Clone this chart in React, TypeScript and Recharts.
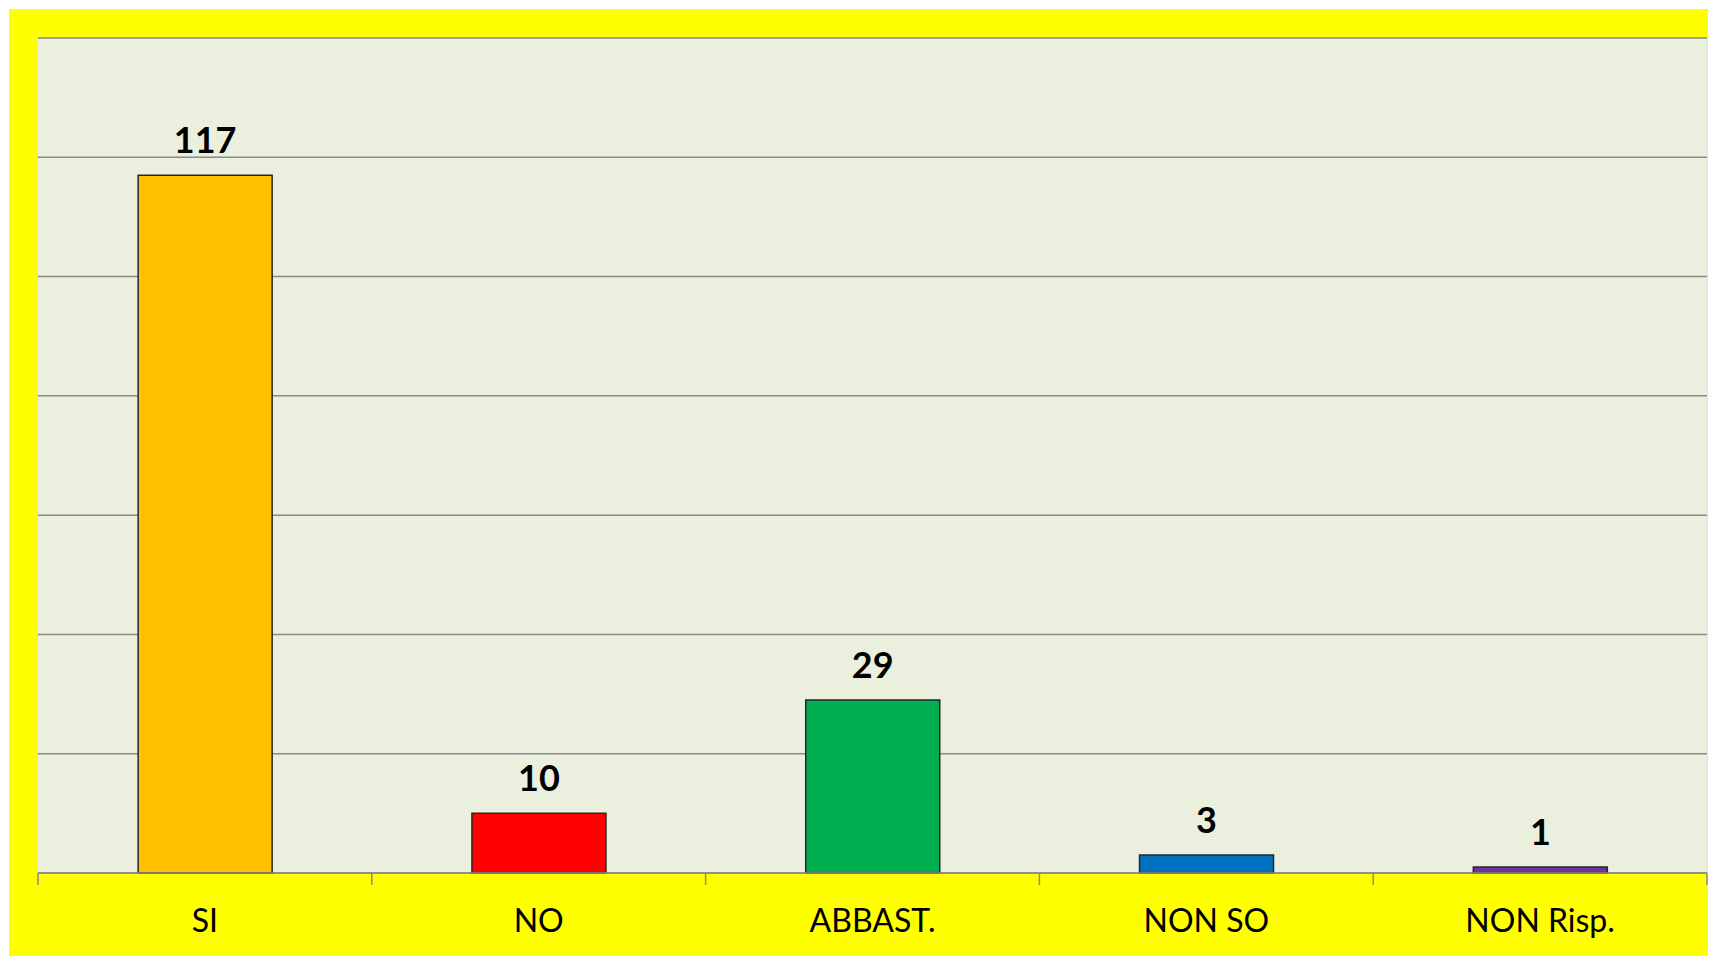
import { BarChart, Bar, XAxis, YAxis, CartesianGrid, Cell, LabelList } from 'recharts';

const CATEGORIES = ['SI', 'NO', 'ABBAST.', 'NON SO', 'NON Risp.'];
const VALUES = [117, 10, 29, 3, 1];
const COLORS = ['#FFC000', '#FF0000', '#00B050', '#0070C0', '#7030A0'];
const Y_TICKS = [0, 20, 40, 60, 80, 100, 120, 140];

const data = CATEGORIES.map((name, i) => ({ name, value: VALUES[i] }));

const FONT = 'Lato, "Open Sans", sans-serif';
const GRID = '#8a8a8a';

// category label plus the small tick marks at the category boundaries
function CategoryTick(props: any) {
  const { x, y, payload, index, visibleTicksCount, width } = props;
  const half = payload.offset > 0 ? payload.offset : width / visibleTicksCount / 2;
  const last = index === visibleTicksCount - 1;
  return (
    <g>
      <line x1={x - half} x2={x - half} y1={y - 12} y2={y} stroke={GRID} strokeWidth={1.5} />
      {last && <line x1={x + half} x2={x + half} y1={y - 12} y2={y} stroke={GRID} strokeWidth={1.5} />}
      <text x={x} y={y + 47} textAnchor="middle" fontSize={32} fontFamily={FONT} fill="#000">
        {payload.value}
      </text>
    </g>
  );
}

// y ticks are kept (they drive the grid) but draw nothing
function NoTick() {
  return <g />;
}

export default function App() {
  return (
    <div style={{ marginTop: 1, marginLeft: 1, width: 1699, height: 947, background: '#FFFF00' }}>
      <BarChart
        width={1699}
        height={947}
        data={data}
        barCategoryGap="30%"
        margin={{ top: 29, right: 1, bottom: 0, left: 29 }}
      >
        <CartesianGrid vertical={false} stroke={GRID} strokeWidth={1.5} fill="#EBF0DE" fillOpacity={1} />
        <XAxis
          dataKey="name"
          interval={0}
          height={83}
          tickSize={12}
          tickMargin={0}
          tickLine={false}
          axisLine={{ stroke: GRID, strokeWidth: 1.5 }}
          tick={<CategoryTick />}
        />
        <YAxis
          domain={[0, 140]}
          ticks={Y_TICKS}
          interval={0}
          width={0}
          tick={<NoTick />}
          axisLine={false}
          tickLine={false}
        />
        <Bar dataKey="value" stroke="#262626" strokeWidth={1.5} isAnimationActive={false}>
          {data.map((_, i) => (
            <Cell key={i} fill={COLORS[i]} />
          ))}
          <LabelList
            dataKey="value"
            position="top"
            offset={22}
            fill="#000"
            fontSize={36}
            fontWeight="bold"
            fontFamily={FONT}
          />
        </Bar>
      </BarChart>
    </div>
  );
}
